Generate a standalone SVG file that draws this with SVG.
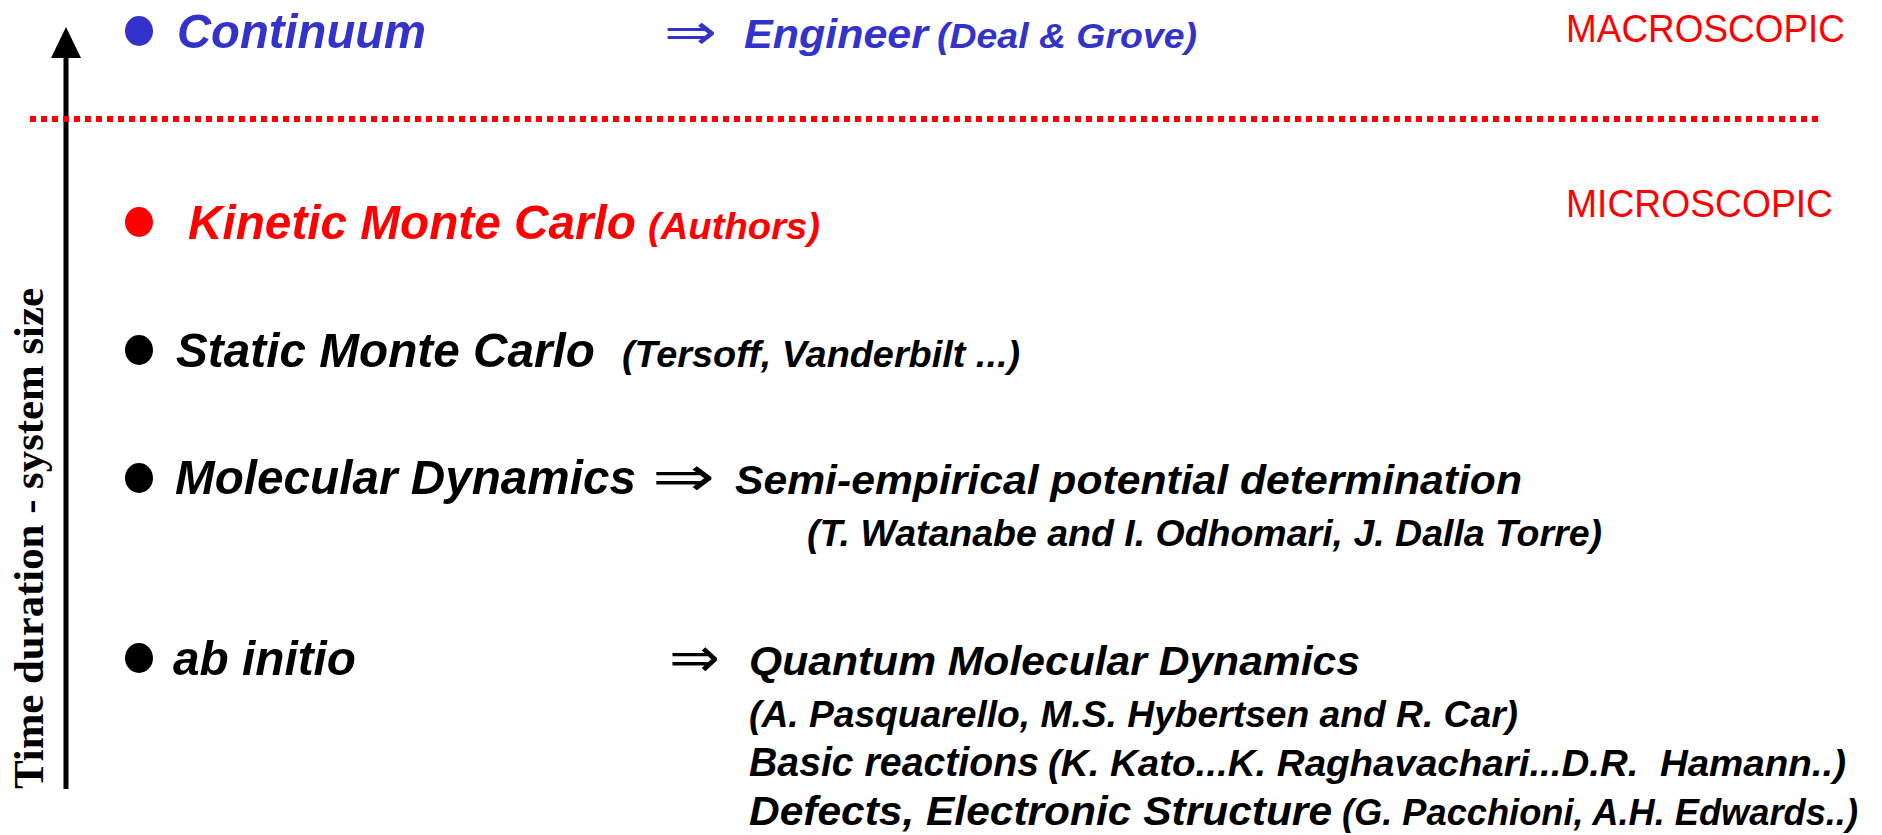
<svg xmlns="http://www.w3.org/2000/svg" width="1882" height="835" viewBox="0 0 1882 835">
<style>
.bi{font-family:"Liberation Sans",Arial,sans-serif;font-weight:bold;font-style:italic}
.reg{font-family:"Liberation Sans",Arial,sans-serif;fill:#FF0000}
.arr{font-family:"DejaVu Sans",sans-serif;font-weight:normal;font-style:normal}
.blue{fill:#3333CC}
.red{fill:#FF0000}
.blk{fill:#000}
.axis{font-family:"Liberation Serif","Times New Roman",serif;font-weight:bold;fill:#000}
.pre{white-space:pre}
</style>
<rect width="1882" height="835" fill="#fff"/>
<g id="connectors">
<line x1="66" y1="789" x2="66" y2="57" stroke="#000" stroke-width="5"/>
<polygon points="66,27 81,58 51,58" fill="#000"/>
<line x1="30" y1="119" x2="1822" y2="119" stroke="#FF0000" stroke-width="6" stroke-dasharray="6 5"/>
</g>
<g id="axis-label">
<text class="axis" font-size="42" transform="translate(43,789) rotate(-90)" textLength="501" lengthAdjust="spacingAndGlyphs">Time duration - system size</text>
</g>
<g id="scale-labels">
<text class="reg" x="1566" y="42" font-size="39" textLength="279" lengthAdjust="spacingAndGlyphs">MACROSCOPIC</text>
<text class="reg" x="1566" y="217" font-size="39" textLength="267" lengthAdjust="spacingAndGlyphs">MICROSCOPIC</text>
</g>
<g id="continuum">
<ellipse class="blue" cx="139" cy="31" rx="14" ry="15"/>
<text class="bi blue" x="177" y="48" font-size="49" textLength="249" lengthAdjust="spacingAndGlyphs">Continuum</text>
<text class="arr blue" x="664" y="49" font-size="50" textLength="53" lengthAdjust="spacingAndGlyphs">⇒</text>
<text class="bi blue" x="744" y="48" font-size="41" textLength="184" lengthAdjust="spacingAndGlyphs">Engineer</text>
<text class="bi blue" x="937" y="48" font-size="35" textLength="260" lengthAdjust="spacingAndGlyphs">(Deal &amp; Grove)</text>
</g>
<g id="kinetic-mc">
<ellipse class="red" cx="139" cy="222" rx="14" ry="15"/>
<text class="bi red" x="188" y="239" font-size="49" textLength="448" lengthAdjust="spacingAndGlyphs">Kinetic Monte Carlo</text>
<text class="bi red" x="648" y="239" font-size="37" textLength="172" lengthAdjust="spacingAndGlyphs">(Authors)</text>
</g>
<g id="static-mc">
<ellipse class="blk" cx="139" cy="350" rx="14" ry="15"/>
<text class="bi blk" x="176" y="367" font-size="49" textLength="419" lengthAdjust="spacingAndGlyphs">Static Monte Carlo</text>
<text class="bi blk" x="622" y="367" font-size="36" textLength="398" lengthAdjust="spacingAndGlyphs">(Tersoff, Vanderbilt ...)</text>
</g>
<g id="molecular-dynamics">
<ellipse class="blk" cx="139" cy="478" rx="14" ry="15"/>
<text class="bi blk" x="175" y="494" font-size="49" textLength="461" lengthAdjust="spacingAndGlyphs">Molecular Dynamics</text>
<text class="arr blk" x="652" y="496" font-size="56" textLength="63" lengthAdjust="spacingAndGlyphs">⇒</text>
<text class="bi blk" x="735" y="494" font-size="41" textLength="787" lengthAdjust="spacingAndGlyphs">Semi-empirical potential determination</text>
<text class="bi blk" x="807" y="546" font-size="36" textLength="795" lengthAdjust="spacingAndGlyphs">(T. Watanabe and I. Odhomari, J. Dalla Torre)</text>
</g>
<g id="ab-initio">
<ellipse class="blk" cx="139" cy="658" rx="14" ry="15"/>
<text class="bi blk" x="173" y="675" font-size="49" textLength="183" lengthAdjust="spacingAndGlyphs">ab initio</text>
<text class="arr blk" x="669" y="677" font-size="56" textLength="51" lengthAdjust="spacingAndGlyphs">⇒</text>
<text class="bi blk" x="749" y="675" font-size="40" textLength="611" lengthAdjust="spacingAndGlyphs">Quantum Molecular Dynamics</text>
<text class="bi blk" x="749" y="727" font-size="36" textLength="769" lengthAdjust="spacingAndGlyphs">(A. Pasquarello, M.S. Hybertsen and R. Car)</text>
<text class="bi blk" x="749" y="776" font-size="40" textLength="290" lengthAdjust="spacingAndGlyphs">Basic reactions</text>
<text class="bi blk pre" x="1048" y="776" font-size="36" textLength="798" lengthAdjust="spacingAndGlyphs">(K. Kato...K. Raghavachari...D.R.  Hamann..)</text>
<text class="bi blk" x="749" y="825" font-size="40" textLength="583" lengthAdjust="spacingAndGlyphs">Defects, Electronic Structure</text>
<text class="bi blk" x="1342" y="825" font-size="36" textLength="516" lengthAdjust="spacingAndGlyphs">(G. Pacchioni, A.H. Edwards..)</text>
</g>
</svg>
